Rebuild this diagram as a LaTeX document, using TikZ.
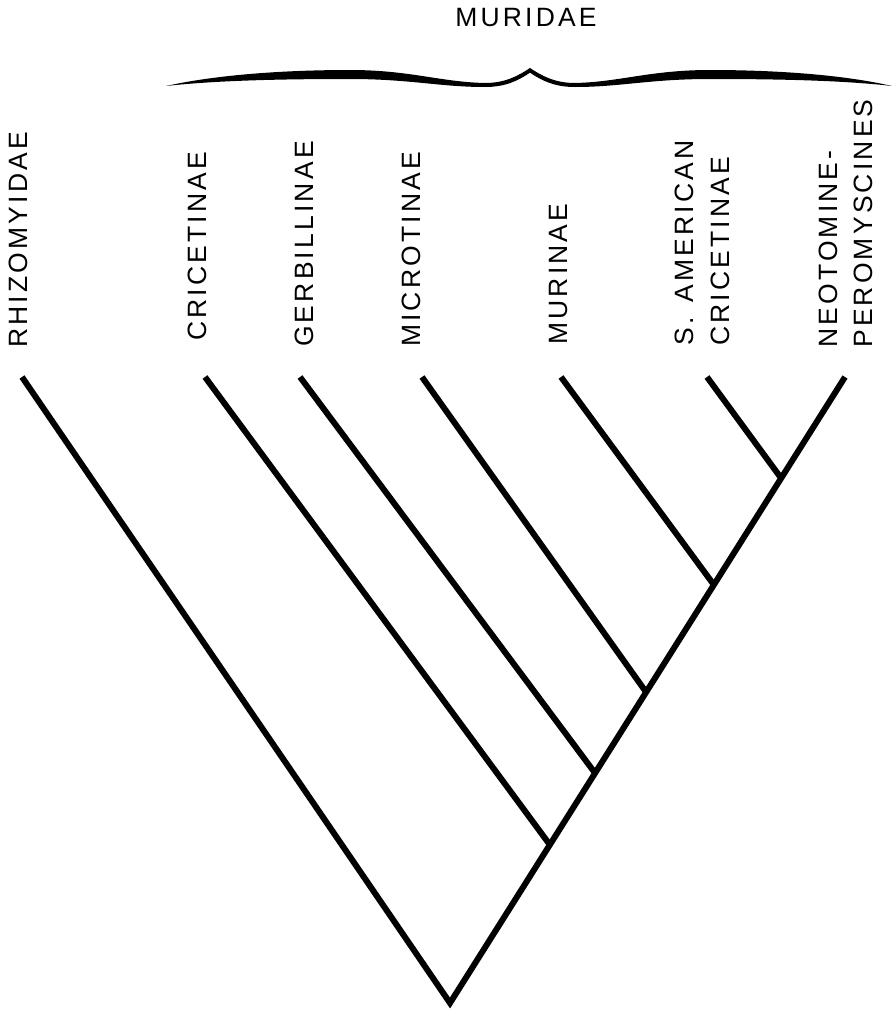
\documentclass[tikz,border=0pt]{standalone}
\usepackage{fontspec}
\setmainfont{Liberation Sans}[LetterSpace=12]
\begin{document}
\begin{tikzpicture}[x=1pt,y=-1pt,
  branch/.style={line width=6pt, line join=miter, line cap=butt},
  taxon/.style={rotate=90, anchor=west, inner sep=0pt, align=left,
                font=\fontsize{26.5}{35.5}\selectfont},
  title/.style={inner sep=0pt, font=\fontsize{26.5}{30}\selectfont}]
\useasboundingbox (0,0) rectangle (894,1012);

% labels
\node[title] (muridae) at (526,18) {MURIDAE};
\node[taxon] (rhiz)  at (18,348)  {RHIZOMYIDAE};
\node[taxon] (cric)  at (197,341) {CRICETINAE};
\node[taxon] (gerb)  at (304,347) {GERBILLINAE};
\node[taxon] (micro) at (411,347) {MICROTINAE};
\node[taxon] (mur)   at (559,345) {MURINAE};
\node[taxon] (sam)   at (702.5,346) {S.\,\ AMERICAN\\CRICETINAE};
\node[taxon] (neo)   at (846,348) {NEOTOMINE-\\PEROMYSCINES};

% brace
\fill (166,86) .. controls (220,74) and (290,70) .. (350,70)
      .. controls (410,70) and (440,82) .. (485,83)
      .. controls (505,83) and (518,76) .. (530,68)
      -- (531,72)
      .. controls (518,81) and (505,87) .. (485,87)
      .. controls (440,87) and (410,79) .. (350,79)
      .. controls (290,79) and (220,80) .. (166,86) -- cycle;
\fill (892,86) .. controls (840,74) and (770,70) .. (710,70)
      .. controls (650,70) and (620,82) .. (575,83)
      .. controls (555,83) and (542,76) .. (530,68)
      -- (529,72)
      .. controls (542,81) and (555,87) .. (575,87)
      .. controls (620,87) and (650,79) .. (710,79)
      .. controls (770,79) and (840,80) .. (892,86) -- cycle;

% tree coordinates
\coordinate (root)  at (450,1003);
\coordinate (tRhiz) at (22,377);
\coordinate (tCric) at (205,377);
\coordinate (tGerb) at (300,377);
\coordinate (tMicr) at (422,377);
\coordinate (tMur)  at (561,377);
\coordinate (tSam)  at (707,377);
\coordinate (tNeo)  at (845,377);
\coordinate (jCric) at (550,845);
\coordinate (jGerb) at (595,773);
\coordinate (jMicr) at (646,692);
\coordinate (jMur)  at (714,585);
\coordinate (jSam)  at (781,478);

% branches
\draw[branch] (tRhiz) -- (root) -- (tNeo);
\draw[branch] (tCric) -- (jCric);
\draw[branch] (tGerb) -- (jGerb);
\draw[branch] (tMicr) -- (jMicr);
\draw[branch] (tMur)  -- (jMur);
\draw[branch] (tSam)  -- (jSam);
\end{tikzpicture}
\end{document}
